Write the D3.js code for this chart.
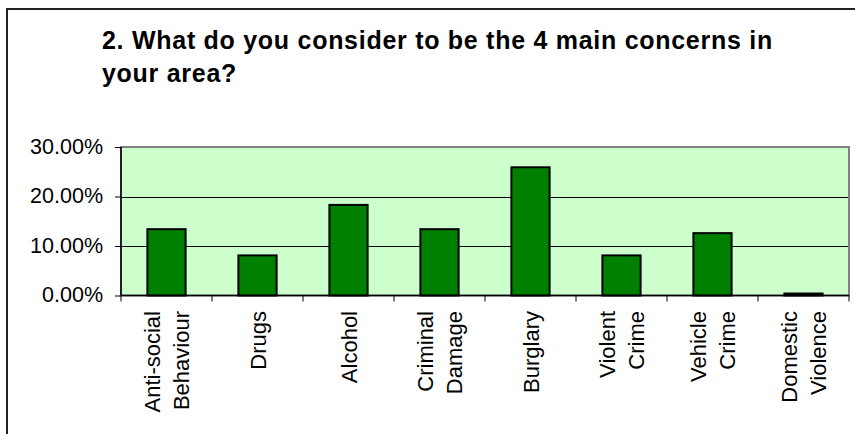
<!DOCTYPE html>
<html>
<head>
<meta charset="utf-8">
<script src="https://cdn.jsdelivr.net/npm/d3@7"></script>
<style>
  html, body { margin: 0; padding: 0; background: #fff; }
  svg { display: block; }
  text { font-family: "Liberation Sans", Arial, sans-serif; fill: #000; }
</style>
</head>
<body>
<svg id="chart" width="855" height="434"></svg>
<script>
const titleLines = ["2. What do you consider to be the 4 main concerns in", "your area?"];
const categories = [
  ["Anti-social", "Behaviour"],
  ["Drugs"],
  ["Alcohol"],
  ["Criminal", "Damage"],
  ["Burglary"],
  ["Violent", "Crime"],
  ["Vehicle", "Crime"],
  ["Domestic", "Violence"]
];
const values = [0.134, 0.081, 0.183, 0.134, 0.259, 0.081, 0.126, 0.004];
const yTicks = [0, 0.10, 0.20, 0.30];

const svg = d3.select("#chart");
const W = 855, H = 434;
const plot = { left: 121, right: 849, top: 147, bottom: 295.5 };

// outer chart border (extends beyond right/bottom)
svg.append("rect")
  .attr("x", 7).attr("y", 9)
  .attr("width", W + 20).attr("height", H + 20)
  .attr("fill", "#fff").attr("stroke", "#222").attr("stroke-width", 2);

// title
const title = svg.append("text")
  .attr("x", 102).attr("y", 49)
  .style("font-size", "25px").style("font-weight", "bold")
  .style("letter-spacing", "0.72px");
titleLines.forEach((t, i) => {
  title.append("tspan").attr("x", 102).attr("y", 49 + i * 33).text(t);
});

const keys = categories.map((c, i) => i);
const x = d3.scaleBand().domain(keys).range([plot.left, plot.right]).paddingInner(0).paddingOuter(0);
const y = d3.scaleLinear().domain([0, 0.30]).range([plot.bottom, plot.top]);

// plot area background
svg.append("rect")
  .attr("x", plot.left).attr("y", plot.top)
  .attr("width", plot.right - plot.left).attr("height", plot.bottom - plot.top)
  .attr("fill", "#CCFFCC");

// gridlines
svg.append("g").selectAll("line")
  .data(yTicks.filter(d => d > 0 && d < 0.30))
  .join("line")
  .attr("x1", plot.left).attr("x2", plot.right)
  .attr("y1", d => Math.round(y(d)) + 0.5).attr("y2", d => Math.round(y(d)) + 0.5)
  .attr("stroke", "#000").attr("stroke-width", 1);

// plot border (gray)
svg.append("rect")
  .attr("x", plot.left).attr("y", plot.top)
  .attr("width", plot.right - plot.left).attr("height", plot.bottom - plot.top)
  .attr("fill", "none").attr("stroke", "#808080").attr("stroke-width", 2);

// bars
const bw = x.bandwidth() * 0.42;
svg.append("g").selectAll("rect")
  .data(values)
  .join("rect")
  .attr("x", (d, i) => x(i) + x.bandwidth() / 2 - bw / 2)
  .attr("y", d => y(d))
  .attr("width", bw)
  .attr("height", d => Math.max(0, y(0) - y(d)))
  .attr("fill", "#008000")
  .attr("stroke", "#000").attr("stroke-width", 2);

// y axis
const yAxis = d3.axisLeft(y).tickValues(yTicks).tickSize(6).tickPadding(12)
  .tickFormat(d => (d * 100).toFixed(2) + "%");
const gy = svg.append("g").attr("transform", `translate(${plot.left},0)`).call(yAxis);
gy.select(".domain").attr("stroke", "#000").attr("stroke-width", 1.5).attr("d", `M0,${plot.top}V${plot.bottom}`);
gy.selectAll(".tick line").attr("stroke", "#000");
gy.selectAll(".tick text")
  .style("font-family", "'Liberation Sans', Arial, sans-serif")
  .style("font-size", "21.5px").attr("fill", "#000").attr("dy", "0.3em");

// x axis line and ticks at category boundaries
const bounds = keys.map(k => x(k)).concat([plot.right]);
svg.append("line")
  .attr("x1", plot.left).attr("x2", plot.right)
  .attr("y1", plot.bottom).attr("y2", plot.bottom)
  .attr("stroke", "#000").attr("stroke-width", 1.5);
svg.append("g").selectAll("line")
  .data(bounds)
  .join("line")
  .attr("x1", d => d).attr("x2", d => d)
  .attr("y1", plot.bottom).attr("y2", plot.bottom + 6)
  .attr("stroke", "#000").attr("stroke-width", 1);

// x labels, rotated
const lg = svg.append("g").selectAll("g")
  .data(categories)
  .join("g")
  .attr("transform", (d, i) => `translate(${x(i) + x.bandwidth() / 2},311) rotate(-90)`);
lg.each(function(lines) {
  const t = d3.select(this).append("text")
    .attr("text-anchor", "end")
    .style("font-size", "22px");
  lines.forEach((ln, j) => {
    const off = (j - (lines.length - 1) / 2) * 29 + 8;
    t.append("tspan").attr("x", 0).attr("y", off).text(ln);
  });
});
</script>
</body>
</html>
